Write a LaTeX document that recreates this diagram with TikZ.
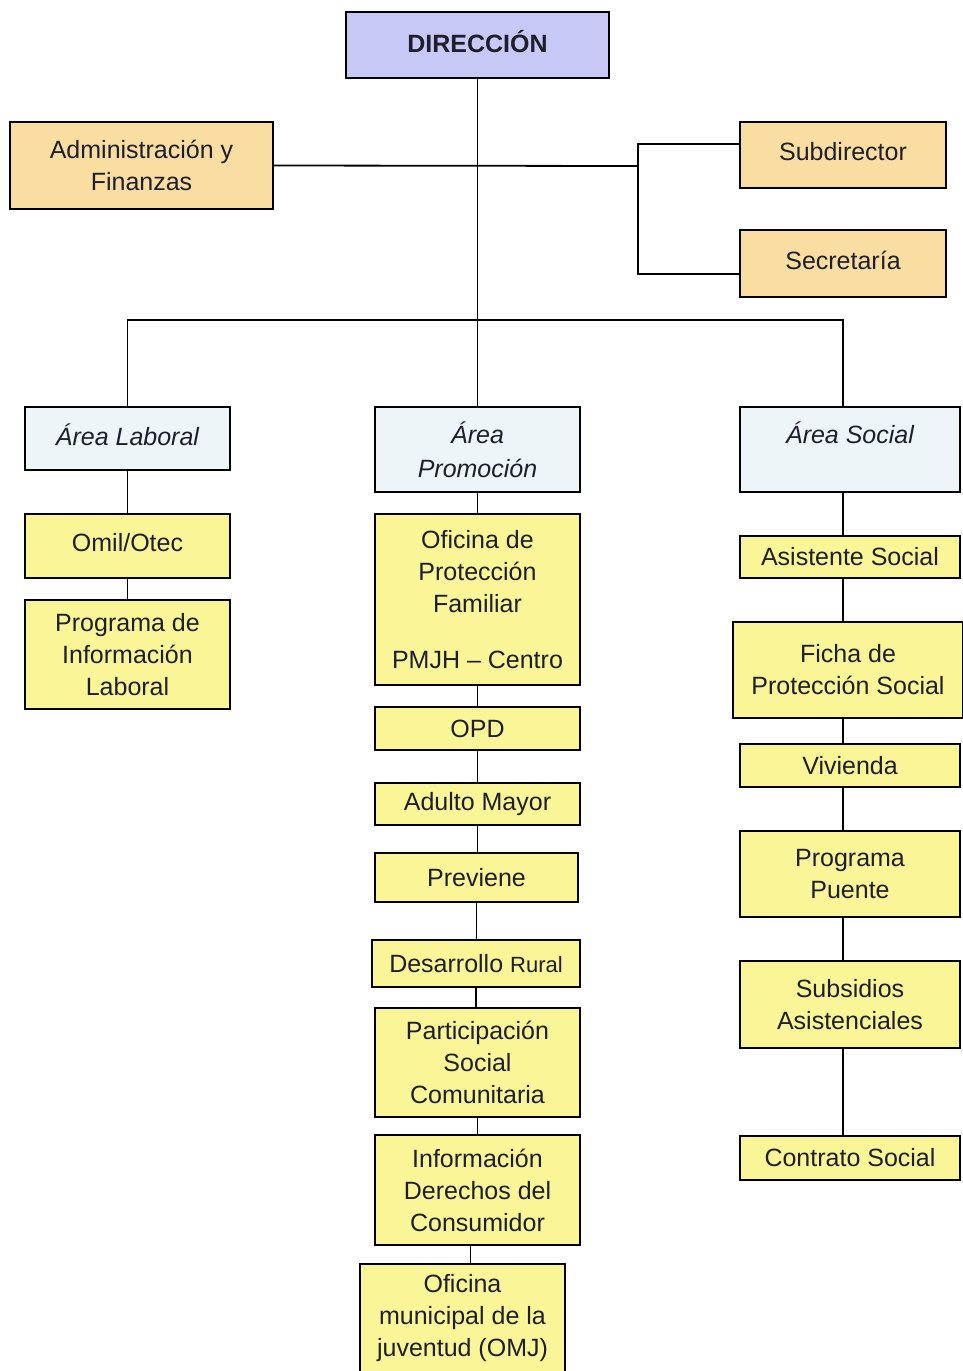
\documentclass[tikz,border=0pt]{standalone}
\usepackage{fontspec}
\setmainfont{Liberation Sans}
\definecolor{lavender}{RGB}{200,200,246}
\definecolor{peach}{RGB}{250,221,160}
\definecolor{iceblue}{RGB}{238,245,248}
\definecolor{lemon}{RGB}{250,245,150}
\definecolor{inkgray}{RGB}{30,30,44}

\begin{document}
\begin{tikzpicture}[x=1pt, y=-1pt,
  box/.style={draw, line width=2pt, align=center, inner sep=2pt, text=inkgray,
    font=\fontsize{25}{32}\selectfont},
  head/.style={box, fill=lavender, font=\fontsize{25}{32}\selectfont\bfseries},
  staff/.style={box, fill=peach},
  area/.style={box, fill=iceblue, font=\fontsize{25}{34}\selectfont\itshape},
  unit/.style={box, fill=lemon},
  link/.style={line width=1.8pt}]
\useasboundingbox (0,0) rectangle (963,1371);

\node[head, minimum width=263pt, minimum height=66pt] (dir) at (477.5,45) {\raisebox{8pt}{DIRECCIÓN}};
\node[staff, minimum width=263pt, minimum height=87pt] (adm) at (141.5,165.5) {Administración y\\Finanzas};
\node[staff, minimum width=206pt, minimum height=66pt] (sub) at (843,155) {\raisebox{7pt}{Subdirector}};
\node[staff, minimum width=206pt, minimum height=67pt] (sec) at (843,263.5) {\raisebox{7pt}{Secretaría}};

\node[area, minimum width=205pt, minimum height=63pt] (lab) at (127.5,438.5) {\raisebox{7pt}{Área Laboral}};
\node[area, minimum width=205pt, minimum height=85pt] (pro) at (477.5,449.5) {Área\\Promoción};
\node[area, minimum width=220pt, minimum height=85pt] (soc) at (850,449.5) {Área Social\\\mbox{}};

\node[unit, minimum width=205pt, minimum height=64pt] (omil) at (127.5,546) {\raisebox{7pt}{Omil/Otec}};
\node[unit, minimum width=205pt, minimum height=109pt] (pil) at (127.5,654.5) {Programa de\\Información\\Laboral};

\node[unit, minimum width=205pt, minimum height=171pt] (opf) at (477.5,599.5) {Oficina de\\Protección\\Familiar\\[24pt]PMJH -- Centro};
\node[unit, minimum width=205pt, minimum height=43pt] (opd) at (477.5,728.5) {OPD};
\node[unit, minimum width=205pt, minimum height=42pt] (adu) at (477.5,804) {Adulto Mayor};
\node[unit, minimum width=203pt, minimum height=49pt] (pre) at (476.5,877.5) {Previene};
\node[unit, minimum width=208pt, minimum height=47pt] (des) at (476,963.5) {Desarrollo {\fontsize{22}{32}\selectfont Rural}};
\node[unit, minimum width=205pt, minimum height=109pt] (par) at (477.5,1062.5) {Participación\\Social\\Comunitaria};
\node[unit, minimum width=205pt, minimum height=110pt] (inf) at (477.5,1190) {Información\\Derechos del\\Consumidor};
\node[unit, minimum width=205pt, minimum height=109pt] (omj) at (462.5,1318.5) {Oficina\\municipal de la\\juventud (OMJ)};

\node[unit, minimum width=220pt, minimum height=42pt] (asi) at (850,557) {Asistente Social};
\node[unit, minimum width=230pt, minimum height=96pt] (fic) at (848,670) {Ficha de\\Protección Social};
\node[unit, minimum width=220pt, minimum height=43pt] (viv) at (850,765.5) {Vivienda};
\node[unit, minimum width=220pt, minimum height=86pt] (ppu) at (850,874) {Programa\\Puente};
\node[unit, minimum width=220pt, minimum height=87pt] (ssa) at (850,1004.5) {Subsidios\\Asistenciales};
\node[unit, minimum width=220pt, minimum height=44pt] (con) at (850,1158) {Contrato Social};

\coordinate (bar) at (477.5,320);
\coordinate (barR) at (843,320);
\coordinate (fork) at (638,166);

\draw[link] (dir.south) -- (bar);
\draw[link] (adm.east) -- (fork);
\draw[link] ([yshift=11pt]sub.west) -| (fork) |- ([yshift=-10.5pt]sec.west);
\draw[link] (lab.north) |- (barR) -- (barR |- soc.north);
\draw[link] (bar) -- (pro.north);

\draw[link] (lab) -- (omil);
\draw[link] (omil) -- (pil);

\draw[link] (pro) -- (opf);
\draw[link] (opf) -- (opd);
\draw[link] (opd) -- (adu);
\draw[link] (adu.south) -- (adu.south |- pre.north);
\draw[link] (pre.south) -- (pre.south |- des.north);
\draw[link] (des.south) -- (des.south |- par.north);
\draw[link] (par) -- (inf);
\draw[link] ([xshift=-7pt]inf.south) -- ([xshift=-7pt]inf.south |- omj.north);

\draw[link] (soc.south -| barR) -- (asi.north -| barR);
\draw[link] (asi.south -| barR) -- (fic.north -| barR);
\draw[link] (fic.south -| barR) -- (viv.north -| barR);
\draw[link] (viv.south -| barR) -- (ppu.north -| barR);
\draw[link] (ppu.south -| barR) -- (ssa.north -| barR);
\draw[link] (ssa.south -| barR) -- (con.north -| barR);
\end{tikzpicture}
\end{document}
